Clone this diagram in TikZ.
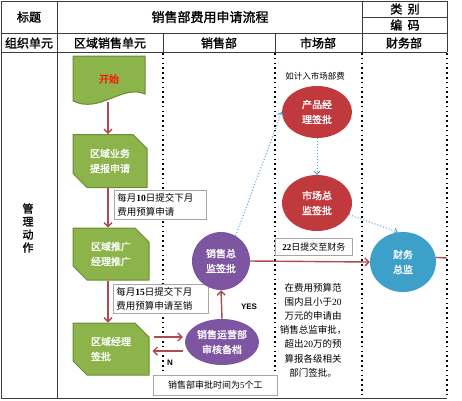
\documentclass[tikz,border=0pt]{standalone}
\usepackage{fontspec}
\setmainfont{Noto Sans CJK SC}[AutoFakeBold=1.6]
\newfontfamily\latinbold{Liberation Sans}
\newfontfamily\digitfont{Liberation Serif}
\usetikzlibrary{shapes.geometric,shapes.misc,arrows.meta}

\definecolor{boxgreen}{RGB}{140,180,75}
\definecolor{boxgreenline}{RGB}{105,140,55}
\definecolor{opspurple}{RGB}{125,85,160}
\definecolor{mktred}{RGB}{192,57,60}
\definecolor{finblue}{RGB}{60,160,200}
\definecolor{flowred}{RGB}{176,74,78}
\definecolor{dotblue}{RGB}{80,160,205}
\definecolor{framegray}{RGB}{60,60,60}

\tikzset{
  frame/.style={draw=framegray, line width=0.9pt},
  laneline/.style={draw=black, line width=1.6pt, dash pattern=on 1.6pt off 3.2pt},
  greenbox/.style={chamfered rectangle, chamfered rectangle corners={north east,south west},
    chamfered rectangle xsep=7pt, chamfered rectangle ysep=7pt, fill=boxgreen, draw=boxgreenline,
    line width=1pt, text=white, font=\bfseries\fontsize{10}{15}\selectfont, align=left,
    minimum width=76pt, minimum height=52pt, inner sep=0pt},
  bubble/.style={ellipse, text=white, font=\bfseries\fontsize{10}{15}\selectfont, align=center, inner sep=0pt},
  notebox/.style={draw=gray!70, fill=white, line width=0.5pt, align=left, inner sep=3pt,
    font=\fontsize{9.5}{14}\selectfont},
  redarr/.style={draw=flowred, line width=1.4pt, -{Straight Barb[length=4pt,width=8pt]}},
  bluearr/.style={draw=dotblue, line width=1pt, dotted, -{Straight Barb[length=3pt,width=6pt]}},
  headtxt/.style={font=\bfseries\fontsize{12}{12}\selectfont},
}

\begin{document}
\begin{tikzpicture}[x=1pt,y=-1pt]
\useasboundingbox (0,0) rectangle (462,400);

% table frame
\draw[frame] (1,1) -- (447,1) -- (447,52);
\draw[frame] (1,1) -- (1,398) -- (447,398);
\draw[frame] (1,33) -- (447,33);
\draw[frame] (1,52) -- (447,52);
\draw[frame] (362,17) -- (447,17);
\draw[frame] (57,1) -- (57,398);
\draw[frame] (362,1) -- (362,52);
\draw[frame] (163,33) -- (163,52);
\draw[frame] (275,33) -- (275,52);
\foreach \x in {163,275,362,447}
  \draw[laneline] (\x,53) -- (\x,397);

% headers
\node[headtxt] (hbiaoti) at (29,17) {标题};
\node[font=\bfseries\fontsize{13}{13}\selectfont] (htitle) at (210,17) {销售部费用申请流程};
\node[headtxt] (hleibie) at (405,9) {类\ \ 别};
\node[headtxt] (hbianma) at (405,25) {编\ \ 码};
\node[headtxt] (horg) at (29,43) {组织单元};
\node[headtxt] (hregion) at (110,43) {区域销售单元};
\node[headtxt] (hsales) at (219,43) {销售部};
\node[headtxt] (hmkt) at (318,43) {市场部};
\node[headtxt] (hfin) at (404,43) {财务部};
\node[align=center, font=\bfseries\fontsize{11}{13}\selectfont] (action) at (28,228) {管\\理\\动\\作};

% region column
\fill[boxgreen, draw=boxgreenline, line width=1pt]
  (73,56) -- (145,56) -- (145,94) .. controls (122,84) and (100,114) .. (73,101) -- cycle;
\node[minimum width=72pt, minimum height=46pt, inner sep=0pt, text=red!85!orange,
  font=\bfseries\fontsize{10}{10}\selectfont] (start) at (109,79) {开始};
\node[greenbox, minimum width=74pt, minimum height=53pt] (apply) at (110,161) {区域业务\\提报申请};
\node[greenbox] (promo) at (111,254) {区域推广\\经理推广};
\node[greenbox] (regmgr) at (111,349) {区域经理\\签批};

\draw[redarr] ([xshift=-1pt]start.south) -- ([xshift=-2pt]apply.north);
\draw[redarr] ([xshift=-2pt]apply.south) -- ([xshift=-3pt]promo.north);
\draw[redarr] ([xshift=-3pt]promo.south) -- ([xshift=-3pt]regmgr.north);

\node[notebox, anchor=north west, text width=86pt] (note10) at (114,190)
  {每月{\digitfont\bfseries 10}日提交下月\\费用预算申请};
\node[notebox, anchor=north west, text width=89pt] (note15) at (113,284)
  {每月{\digitfont\bfseries 15}日提交下月\\费用预算申请至销};

% sales column
\node[bubble, fill=opspurple, minimum width=58pt, minimum height=58pt] (salesdir) at (221,261) {销售总\\监签批};
\node[bubble, fill=opspurple, minimum width=74pt, minimum height=46pt] (salesops) at (222,342) {销售运营部\\审核备档};
\draw[redarr] (salesops.north) -- (salesdir.south);
\node[font=\latinbold\bfseries\fontsize{8}{8}\selectfont] (yes) at (249,307) {YES};
\draw[redarr, shorten <=4pt, shorten >=2pt] ([yshift=12pt]regmgr.east) -- ([yshift=12pt]regmgr.east -| salesops.west);
\draw[redarr, shorten <=2pt, shorten >=3pt] ([yshift=-2pt]regmgr.east -| salesops.west) -- ([yshift=-2pt]regmgr.east);
\node[font=\latinbold\bfseries\fontsize{8}{8}\selectfont] (nolabel) at (170,363) {N};
\node[notebox, anchor=north west, minimum width=124pt, minimum height=20pt, font=\fontsize{9}{9}\selectfont]
  (note5) at (153,375) {销售部审批时间为{\digitfont 5}个工};

% market column
\node[font=\fontsize{8.5}{8.5}\selectfont] (mkttip) at (315,76) {如计入市场部费};
\node[bubble, fill=mktred, minimum width=70pt, minimum height=52pt] (prodmgr) at (317,112) {产品经\\理签批};
\node[bubble, fill=mktred, minimum width=70pt, minimum height=56pt] (mktdir) at (317,203) {市场总\\监签批};
\node[align=center, font=\fontsize{9.5}{14.2}\selectfont] (rule) at (313,330)
  {在费用预算范\\围内且小于{\digitfont 20}\\万元的申请由\\销售总监审批，\\超出{\digitfont 20}万的预\\算报各级相关\\部门签批。};

% finance column
\node[bubble, fill=finblue, minimum width=66pt, minimum height=60pt] (findir) at (403,262) {财务\\总监};
\coordinate (finout) at (447,258);

\draw[bluearr] (salesdir.60) -- (prodmgr.west);
\draw[bluearr] (prodmgr.south) -- (mktdir.north);
\draw[bluearr] (mktdir.-20) -- (findir.100);
\draw[redarr] (salesdir.east) -- (findir.west);
\draw[draw=flowred, line width=1.4pt] (findir.8) -- (finout);
\node[notebox, anchor=north west, minimum width=77pt, minimum height=17pt, font=\fontsize{9}{9}\selectfont]
  (note22) at (275,238) {{\digitfont\bfseries 22}日提交至财务};

\end{tikzpicture}
\end{document}
